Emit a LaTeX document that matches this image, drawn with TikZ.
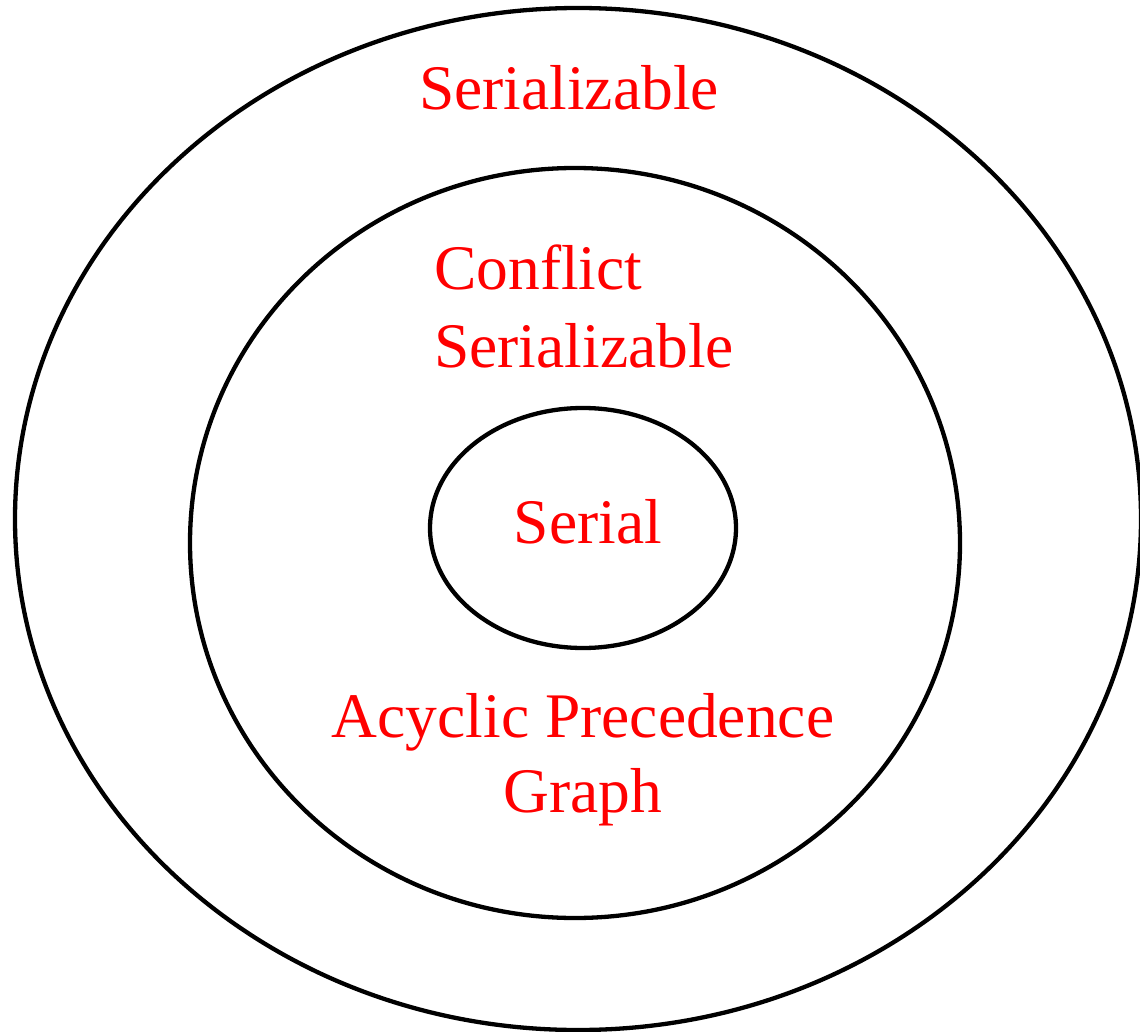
\documentclass[tikz,border=0pt]{standalone}
\usepackage{fontspec}
\setmainfont{Liberation Serif}
\begin{document}
\begin{tikzpicture}[x=1pt,y=-1pt,
  ring/.style={draw=black,line width=4.3pt},
  lbl/.style={text=red,font=\fontsize{63.5}{76}\selectfont,inner sep=0pt,anchor=base}]
\useasboundingbox (0,0) rectangle (1140,1032);
\clip (0,0) rectangle (1140,1032);
\draw[ring] (578,519) ellipse [x radius=563, y radius=511];
\draw[ring] (575,543) ellipse [x radius=385, y radius=375];
\draw[ring] (583,528) ellipse [x radius=153, y radius=120];
\node[lbl] (ser) at (569,110) {Serializable};
\node[lbl,anchor=base west] (conf) at (434,290) {Conflict};
\node[lbl,anchor=base west] (confser) at (434,367) {Serializable};
\node[lbl] (serial) at (588,543) {Serial};
\node[lbl] (acyc) at (583,737) {Acyclic Precedence};
\node[lbl] (graph) at (583,812) {Graph};
\end{tikzpicture}
\end{document}
